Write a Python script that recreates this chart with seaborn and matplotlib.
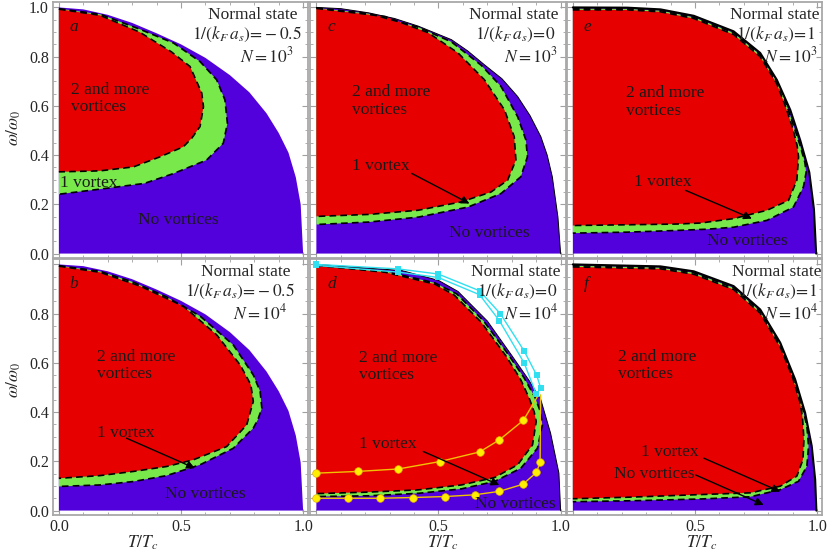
import numpy as np
import matplotlib
matplotlib.use('Agg')
import matplotlib.pyplot as plt
import seaborn as sns
from matplotlib.ticker import MultipleLocator, FixedLocator

sns.set_style('white')
plt.rcParams['font.family'] = ['Liberation Serif', 'DejaVu Serif']
plt.rcParams['mathtext.fontset'] = 'stix'

RED = '#e60000'
GREEN = '#78e84a'
PURPLE = '#5200dc'
CYAN = '#30e0f0'

# ---------------- panel a : 1/(kF as) = -0.5, N = 1e3 ----------------
A_OUT_T = [0, 0.1, 0.2, 0.3, 0.4, 0.5, 0.6, 0.7, 0.78, 0.85, 0.9, 0.94, 0.97, 0.99, 1.0]
A_OUT_W = [1.0, 0.992, 0.97, 0.937, 0.895, 0.85, 0.795, 0.725, 0.655, 0.57, 0.49, 0.41, 0.31, 0.2, 0.0]
A_MID_T = [0, 0.17, 0.33, 0.47, 0.578, 0.646, 0.68, 0.69, 0.673, 0.605, 0.469, 0.35, 0.17, 0]
A_MID_W = [0.995, 0.972, 0.912, 0.855, 0.78, 0.706, 0.624, 0.529, 0.448, 0.38, 0.325, 0.285, 0.262, 0.241]
A_IN_T = [0, 0.168, 0.33, 0.46, 0.537, 0.585, 0.592, 0.578, 0.545, 0.51, 0.414, 0.305, 0.168, 0]
A_IN_W = [0.993, 0.968, 0.9, 0.82, 0.76, 0.652, 0.597, 0.516, 0.47, 0.434, 0.393, 0.352, 0.336, 0.332]

# ---------------- panel b : 1/(kF as) = -0.5, N = 1e4 ----------------
B_OUT_T = [0, 0.1, 0.2, 0.3, 0.4, 0.5, 0.6, 0.7, 0.78, 0.85, 0.9, 0.94, 0.97, 0.99, 1.0]
B_OUT_W = [1.0, 0.993, 0.972, 0.94, 0.898, 0.852, 0.797, 0.725, 0.652, 0.565, 0.485, 0.405, 0.305, 0.195, 0.0]
B_MID_T = [0, 0.168, 0.305, 0.441, 0.578, 0.714, 0.796, 0.824, 0.831, 0.815, 0.796, 0.714, 0.578, 0.441, 0.305, 0.168, 0]
B_MID_W = [0.995, 0.972, 0.928, 0.868, 0.79, 0.673, 0.551, 0.484, 0.416, 0.37, 0.335, 0.253, 0.186, 0.142, 0.118, 0.104, 0.098]
B_IN_T = [0, 0.168, 0.332, 0.51, 0.646, 0.742, 0.786, 0.796, 0.769, 0.687, 0.55, 0.441, 0.305, 0.168, 0]
B_IN_W = [0.993, 0.968, 0.912, 0.83, 0.714, 0.592, 0.511, 0.443, 0.348, 0.26, 0.206, 0.179, 0.159, 0.142, 0.131]

# ---------------- panel c : 1/(kF as) = 0, N = 1e3 ----------------
C_OUT_T = [0, 0.1, 0.214, 0.32, 0.417, 0.553, 0.62, 0.688, 0.76, 0.824, 0.875, 0.919, 0.945, 0.966, 0.989, 1.0]
C_OUT_W = [1.0, 0.995, 0.978, 0.955, 0.924, 0.869, 0.823, 0.767, 0.71, 0.638, 0.56, 0.475, 0.4, 0.312, 0.148, 0.0]
C_MID_T = [0, 0.214, 0.417, 0.553, 0.675, 0.756, 0.824, 0.858, 0.864, 0.837, 0.756, 0.621, 0.417, 0.214, 0]
C_MID_W = [0.998, 0.975, 0.92, 0.86, 0.765, 0.679, 0.556, 0.461, 0.393, 0.312, 0.244, 0.189, 0.148, 0.128, 0.118]
C_IN_T = [0, 0.282, 0.458, 0.58, 0.688, 0.77, 0.81, 0.817, 0.783, 0.715, 0.593, 0.417, 0.214, 0]
C_IN_W = [0.996, 0.963, 0.897, 0.815, 0.706, 0.584, 0.475, 0.38, 0.298, 0.25, 0.21, 0.176, 0.159, 0.151]

# ---------------- panel d : 1/(kF as) = 0, N = 1e4 ----------------
D_OUT_T = [0, 0.35, 0.5, 0.58, 0.70, 0.80, 0.87, 0.919, 0.959, 0.993, 1.0]
D_OUT_W = [1.0, 0.975, 0.935, 0.89, 0.77, 0.63, 0.53, 0.45, 0.314, 0.152, 0.0]
D_MID_T = [0, 0.282, 0.485, 0.575, 0.685, 0.785, 0.85, 0.895, 0.918, 0.925, 0.905, 0.837, 0.729, 0.593, 0.417, 0.214, 0]
D_MID_W = [0.998, 0.972, 0.925, 0.88, 0.77, 0.635, 0.54, 0.46, 0.40, 0.348, 0.253, 0.172, 0.118, 0.088, 0.07, 0.06, 0.057]
D_IN_T = [0, 0.282, 0.485, 0.565, 0.675, 0.775, 0.835, 0.872, 0.892, 0.9, 0.885, 0.824, 0.729, 0.593, 0.417, 0.214, 0]
D_IN_W = [0.996, 0.968, 0.92, 0.875, 0.765, 0.63, 0.535, 0.455, 0.40, 0.362, 0.267, 0.186, 0.134, 0.104, 0.084, 0.075, 0.069]
# overlays in panel d
CYAN1_T = [0, 0.333, 0.499, 0.668, 0.753, 0.851, 0.902, 0.919]
CYAN1_W = [1.0, 0.982, 0.961, 0.893, 0.80, 0.648, 0.55, 0.496]
CYAN2_T = [0, 0.333, 0.499, 0.668, 0.749, 0.851, 0.90]
CYAN2_W = [0.996, 0.969, 0.947, 0.877, 0.772, 0.599, 0.474]
YEL1_T = [0, 0.169, 0.336, 0.505, 0.668, 0.749, 0.848, 0.905]
YEL1_W = [0.152, 0.159, 0.169, 0.199, 0.238, 0.287, 0.367, 0.463]
YEL2_T = [0, 0.13, 0.259, 0.394, 0.528, 0.648, 0.749, 0.846, 0.901, 0.916, 0.918]
YEL2_W = [0.05, 0.05, 0.05, 0.053, 0.057, 0.064, 0.078, 0.107, 0.155, 0.196, 0.47]

# ---------------- panel e : 1/(kF as) = 1, N = 1e3 ----------------
E_OUT_T = [0, 0.223, 0.359, 0.495, 0.658, 0.767, 0.835, 0.89, 0.931, 0.968, 0.987, 0.996]
E_OUT_W = [1.0, 0.999, 0.992, 0.966, 0.903, 0.815, 0.706, 0.584, 0.46, 0.33, 0.18, 0.0]
E_MID_T = [0, 0.223, 0.359, 0.495, 0.658, 0.767, 0.835, 0.862, 0.9, 0.93, 0.95, 0.955, 0.944, 0.903, 0.795, 0.658, 0.55, 0.427, 0.223, 0]
E_MID_W = [0.995, 0.994, 0.987, 0.96, 0.897, 0.808, 0.698, 0.64, 0.53, 0.44, 0.37, 0.33, 0.271, 0.189, 0.135, 0.107, 0.099, 0.094, 0.087, 0.083]
E_IN_T = [0, 0.223, 0.359, 0.495, 0.658, 0.767, 0.835, 0.87, 0.9, 0.918, 0.924, 0.917, 0.883, 0.795, 0.658, 0.522, 0.427, 0.223, 0]
E_IN_W = [0.99, 0.99, 0.982, 0.955, 0.89, 0.8, 0.69, 0.6, 0.51, 0.44, 0.393, 0.298, 0.216, 0.176, 0.142, 0.124, 0.12, 0.117, 0.114]

# ---------------- panel f : 1/(kF as) = 1, N = 1e4 ----------------
F_OUT_T = [0, 0.359, 0.495, 0.658, 0.767, 0.849, 0.91, 0.951, 0.978, 0.992, 0.997]
F_OUT_W = [1.0, 0.992, 0.972, 0.912, 0.817, 0.682, 0.533, 0.397, 0.262, 0.126, 0.0]
F_MID_T = [0, 0.359, 0.495, 0.658, 0.767, 0.849, 0.91, 0.935, 0.958, 0.965, 0.958, 0.924, 0.849, 0.727, 0.522, 0.25, 0]
F_MID_W = [0.995, 0.987, 0.966, 0.905, 0.81, 0.674, 0.522, 0.44, 0.343, 0.262, 0.18, 0.119, 0.085, 0.056, 0.047, 0.04, 0.036]
F_IN_T = [0, 0.359, 0.495, 0.658, 0.767, 0.849, 0.9, 0.93, 0.94, 0.946, 0.942, 0.917, 0.849, 0.727, 0.522, 0.25, 0]
F_IN_W = [0.99, 0.982, 0.96, 0.898, 0.802, 0.665, 0.54, 0.44, 0.38, 0.289, 0.207, 0.14, 0.099, 0.072, 0.065, 0.055, 0.048]

PARAMS = ['-0.5', '-0.5', '0', '0', '1', '1']
NVALS = ['3', '4', '3', '4', '3', '4']
LETTERS = ['a', 'b', 'c', 'd', 'e', 'f']
Y_TICKS = [0.0, 0.2, 0.4, 0.6, 0.8, 1.0]
X_TICKS = [0.0, 0.5, 1.0]

panels = {
    'a': dict(out=(A_OUT_T, A_OUT_W), mid=(A_MID_T, A_MID_W), inn=(A_IN_T, A_IN_W), row=0, col=0, olw=0),
    'b': dict(out=(B_OUT_T, B_OUT_W), mid=(B_MID_T, B_MID_W), inn=(B_IN_T, B_IN_W), row=1, col=0, olw=0),
    'c': dict(out=(C_OUT_T, C_OUT_W), mid=(C_MID_T, C_MID_W), inn=(C_IN_T, C_IN_W), row=0, col=1, olw=0.7),
    'd': dict(out=(D_OUT_T, D_OUT_W), mid=(D_MID_T, D_MID_W), inn=(D_IN_T, D_IN_W), row=1, col=1, olw=0.7),
    'e': dict(out=(E_OUT_T, E_OUT_W), mid=(E_MID_T, E_MID_W), inn=(E_IN_T, E_IN_W), row=0, col=2, olw=1.5),
    'f': dict(out=(F_OUT_T, F_OUT_W), mid=(F_MID_T, F_MID_W), inn=(F_IN_T, F_IN_W), row=1, col=2, olw=1.5),
}

# label placements (data coords)
TWO = {'a': (0.05, 0.63), 'b': (0.155, 0.59), 'c': (0.146, 0.62), 'd': (0.175, 0.585), 'e': (0.216, 0.616), 'f': (0.184, 0.59)}
ONE = {'a': (0.005, 0.288), 'b': (0.155, 0.317), 'c': (0.146, 0.355), 'd': (0.175, 0.272), 'e': (0.249, 0.29), 'f': (0.278, 0.236)}
ONE_ARROW = {'b': ((0.277, 0.294), (0.557, 0.172)), 'c': ((0.39, 0.326), (0.627, 0.203)),
             'd': ((0.438, 0.24), (0.749, 0.104)), 'e': ((0.461, 0.257), (0.733, 0.142)),
             'f': ((0.536, 0.213), (0.849, 0.077))}
NOV = {'a': (0.49, 0.135, 'center'), 'b': (0.598, 0.069, 'center'), 'c': (0.707, 0.082, 'center'),
       'd': (0.813, 0.028, 'center'), 'e': (0.714, 0.053, 'center'), 'f': (0.168, 0.15, 'left')}
NOV_ARROW = {'f': ((0.502, 0.145), (0.781, 0.023))}
NS_X = {'a': (0.975, 0.995, 0.96), 'b': (0.947, 0.967, 0.934), 'c': (0.992, 0.98, 0.988),
        'd': (1.0, 0.988, 0.992), 'e': (1.008, 0.992, 1.004), 'f': (1.02, 1.0, 1.004)}

W, H = 828, 558
fig = plt.figure(figsize=(W / 100, H / 100), dpi=100)
col_left = [53, 310.5, 567]
row_top = [2, 259]
FS = 12.5
TXT = '#1a1a1a'

for key, p in panels.items():
    r, c = p['row'], p['col']
    ax = fig.add_axes([col_left[c] / W, 1 - (row_top[r] + 256) / H, 255 / W, 256 / H])
    ot, ow = p['out']
    ax.fill(np.r_[0, ot], np.r_[0, ow], color=PURPLE, lw=0, zorder=1)
    mt, mw = p['mid']
    ax.fill(mt, mw, color=GREEN, lw=0, zorder=2)
    it, iw = p['inn']
    ax.fill(it, iw, color=RED, lw=0, zorder=3)
    if p['olw'] > 0:
        ax.plot(ot, ow, color='k', lw=p['olw'], zorder=4)
    ax.plot(mt, mw, color='k', lw=1.2, dashes=(4, 2.5), zorder=5)
    ax.plot(it, iw, color='k', lw=1.2, dashes=(4, 2.5), zorder=5)

    if key == 'd':
        sns.lineplot(x=CYAN1_T, y=CYAN1_W, ax=ax, color=CYAN, lw=1.0, marker='s', markersize=5,
                     markeredgewidth=0, sort=False, estimator=None, zorder=6)
        sns.lineplot(x=CYAN2_T, y=CYAN2_W, ax=ax, color=CYAN, lw=1.0, marker='s', markersize=5,
                     markeredgewidth=0, sort=False, estimator=None, zorder=6)
        sns.lineplot(x=YEL1_T, y=YEL1_W, ax=ax, color='#f2c200', lw=1.0, marker='o', markersize=5.5,
                     markerfacecolor='#ffee00', markeredgecolor='#e0b000', markeredgewidth=0.5,
                     markevery=list(range(len(YEL1_T) - 1)), sort=False, estimator=None, zorder=6)
        sns.lineplot(x=YEL2_T, y=YEL2_W, ax=ax, color='#f2c200', lw=1.0, marker='o', markersize=5.5,
                     markerfacecolor='#ffee00', markeredgecolor='#e0b000', markeredgewidth=0.5,
                     markevery=list(range(len(YEL2_T) - 1)), sort=False, estimator=None, zorder=6)

    ax.set_xlim(-0.024, 1.02)
    ax.set_ylim(-0.018, 1.022)

    # texts
    ax.text(0.045, 0.92, key, style='italic', fontsize=FS, color=TXT, ha='left', va='center', zorder=10)
    x1, x2, x3 = NS_X[key]
    idx = LETTERS.index(key)
    ax.text(x1, 0.97, 'Normal state', fontsize=FS, ha='right', va='center', zorder=10, clip_on=False)
    ax.text(x2, 0.89, r'$1/(k_F\,a_s)\!=\!' + PARAMS[idx] + '$', fontsize=FS,
            ha='right', va='center', zorder=10)
    ax.text(x3, 0.80, r'$N=10^{%s}$' % NVALS[idx], fontsize=FS, ha='right', va='center', zorder=10)

    tx, ty = TWO[key]
    ax.text(tx, ty, '2 and more\nvortices', fontsize=FS, color=TXT, ha='left', va='center',
            linespacing=1.1, zorder=10)
    ox, oy = ONE[key]
    ax.text(ox, oy, '1 vortex', fontsize=FS, color=TXT, ha='left', va='center', zorder=10)
    if key in ONE_ARROW:
        (a0, a1) = ONE_ARROW[key]
        ax.annotate('', xy=a1, xytext=a0, zorder=11,
                    arrowprops=dict(arrowstyle='-|>', color='k', lw=1.0, mutation_scale=12,
                                    shrinkA=0, shrinkB=0))
    nx, ny, nha = NOV[key]
    ax.text(nx, ny, 'No vortices', fontsize=FS, color=TXT, ha=nha, va='center', zorder=10)
    if key in NOV_ARROW:
        (a0, a1) = NOV_ARROW[key]
        ax.annotate('', xy=a1, xytext=a0, zorder=11,
                    arrowprops=dict(arrowstyle='-|>', color='k', lw=1.0, mutation_scale=12,
                                    shrinkA=0, shrinkB=0))

    # frame & ticks
    for s in ax.spines.values():
        s.set_color('#a8a8a8')
        s.set_linewidth(1.3)
        s.set_visible(True)
    ax.yaxis.set_major_locator(FixedLocator(Y_TICKS))
    ax.yaxis.set_minor_locator(MultipleLocator(0.05))
    ax.xaxis.set_major_locator(FixedLocator(X_TICKS))
    ax.xaxis.set_minor_locator(MultipleLocator(0.1))
    ax.tick_params(which='both', direction='in', color='#a0a0a0', top=True, right=True,
                   bottom=True, left=True, labelsize=11.5, pad=3)
    ax.tick_params(which='major', length=4, width=0.8)
    ax.tick_params(which='minor', length=2, width=0.6)
    if c == 0:
        ylabels = ['0.0', '0.2', '0.4', '0.6', '0.8', '1.0'] if r == 0 else ['0.0', '0.2', '0.4', '0.6', '0.8', '']
        ax.set_yticklabels(ylabels)
    else:
        ax.set_yticklabels([])
    if r == 1:
        xl = ['0.0', '0.5', '1.0'] if c == 0 else ['', '0.5', '1.0']
        ax.set_xticklabels(xl)
    else:
        ax.set_xticklabels([])
    ax.set_xlabel('')
    ax.set_ylabel('')

# axis labels
for xc in [143, 443, 702]:
    fig.text(xc / W, 1 - 543 / H, r'$T/T_c$', fontsize=FS, ha='center', va='center')
for yc in [128, 380]:
    fig.text(14 / W, 1 - yc / H, r'$\omega/\omega_0$', fontsize=FS, ha='center', va='center', rotation=90)

fig.savefig('out.png', dpi=100)
